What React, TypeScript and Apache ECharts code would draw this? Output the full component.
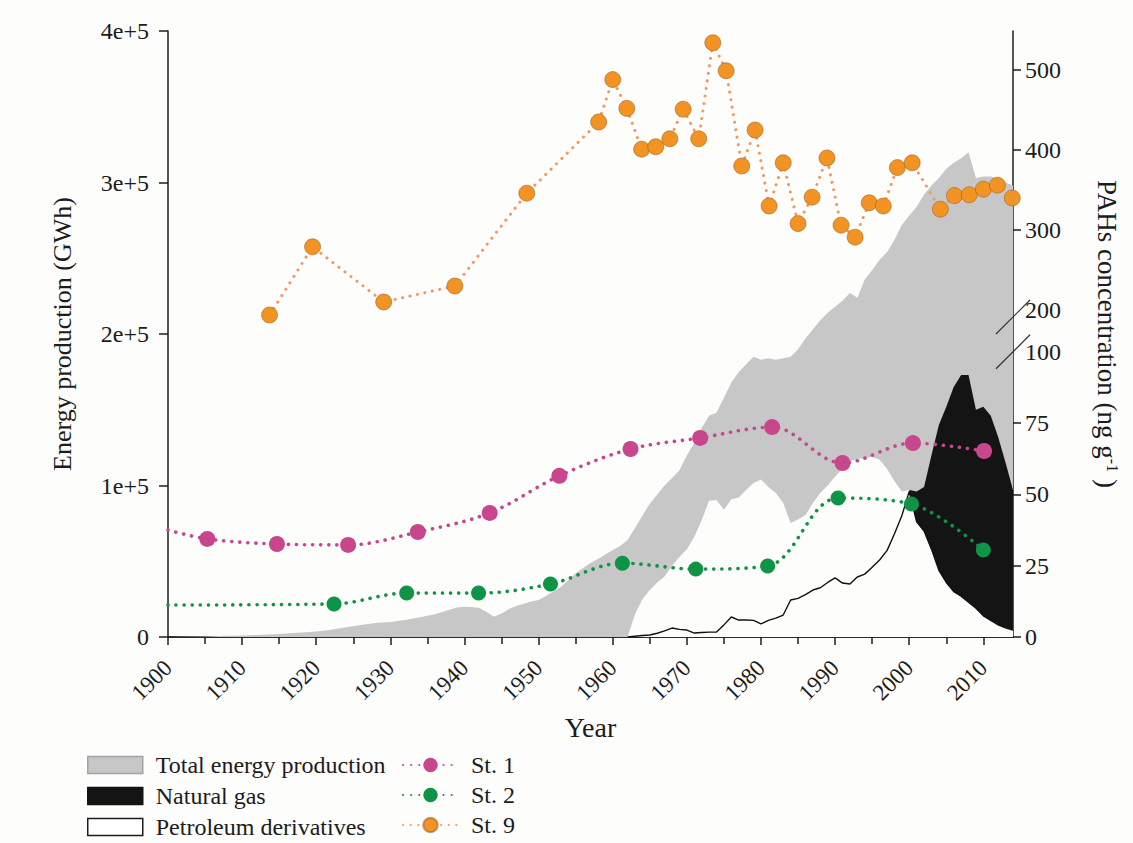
import React, { useEffect, useRef } from "react";
import * as echarts from "echarts";

// ---------------- Data ----------------
const TOTAL_YEARS = [
  1900, 1902, 1905, 1908, 1910, 1912, 1915, 1918, 1920, 1922, 1924, 1926, 1928, 1930, 1932, 1934, 1936, 1937,
  1938, 1939, 1940, 1941, 1942, 1943, 1944, 1945, 1946, 1947, 1948, 1949, 1950, 1951, 1952, 1953, 1954, 1955,
  1956, 1957, 1958, 1959, 1960, 1961, 1962, 1963, 1964, 1965, 1966, 1967, 1968, 1969, 1970, 1971, 1972, 1973,
  1974, 1975, 1976, 1977, 1978, 1979, 1980, 1981, 1982, 1983, 1984, 1985, 1986, 1987, 1988, 1989, 1990, 1991,
  1992, 1993, 1994, 1995, 1996, 1997, 1998, 1999, 2000, 2001, 2002, 2003, 2004, 2005, 2006, 2007, 2008, 2009,
  2010, 2011, 2012, 2013, 2014,
];
const TOTAL_GWH = [
  0, 100, 400, 800, 1000, 1400, 2000, 3000, 3600, 4800, 6500, 7900, 9200, 9900, 11300, 13000, 15000, 16500,
  18000, 19500, 20000, 19800, 19200, 16500, 13300, 15500, 18500, 20500, 22000, 23500, 24400, 27000, 30000, 33000, 37500, 42000,
  45500, 48800, 51500, 54500, 57500, 60000, 64000, 72000, 80000, 88000, 94000, 100000, 105000, 110000, 120000, 128000, 138000, 146000,
  148000, 158000, 168000, 175000, 180000, 185000, 183000, 184000, 183000, 184000, 185000, 190000, 197000, 203000, 209000, 214000, 218000, 222000,
  227000, 224000, 236000, 242000, 249000, 254000, 262000, 272000, 278000, 284000, 292000, 298000, 303000, 309000, 313000, 316000, 320000, 303000,
  304000, 304000, 302000, 300000, 298000,
];

// white gap below the grey band (1962-2000)
const GAP_YEARS = [
  1962, 1963, 1964, 1965, 1966, 1967, 1968, 1969, 1970, 1971, 1972, 1973, 1974, 1975, 1976, 1977, 1978, 1979, 1980,
  1981, 1982, 1983, 1984, 1985, 1986, 1987, 1988, 1989, 1990, 1991, 1992, 1993, 1994, 1995, 1996, 1997, 1998, 1999, 2000,
];
const GAP_GWH = [
  0, 15000, 25000, 31000, 36000, 40000, 47000, 52800, 58000, 66000, 77000, 90000, 90400, 84000, 91000, 92000, 97000, 101600, 104000,
  99000, 95000, 88400, 75200, 77500, 80500, 88400, 95000, 100000, 106000, 111000, 116000, 117500, 118200, 118800, 117000, 111000, 103000, 96000, 97000,
];

const PETRO_YEARS = [
  1962, 1963, 1964, 1965, 1966, 1967, 1968, 1969, 1970, 1971, 1972, 1973, 1974, 1975, 1976, 1977, 1978, 1979, 1980,
  1981, 1982, 1983, 1984, 1985, 1986, 1987, 1988, 1989, 1990, 1991, 1992, 1993, 1994, 1995, 1996, 1997, 1998, 1999, 2000,
  2001, 2002, 2003, 2004, 2005, 2006, 2007, 2008, 2009, 2010, 2011, 2012, 2013, 2014,
];
const PETRO_GWH = [
  0, 500, 1000, 1300, 2500, 4000, 5900, 5000, 4600, 2600, 3000, 3200, 3300, 8000, 13200, 11200, 11200, 11000, 8600,
  11000, 12500, 14500, 24400, 25500, 28000, 31000, 32500, 36000, 39000, 35600, 35000, 39600, 41500, 46000, 50800, 57000, 68000, 80000, 96000,
  76000, 70000, 58000, 44000, 36000, 30000, 27000, 23000, 19000, 14000, 11000, 8000, 6000, 4500,
];

const GAS_YEARS = [2000, 2001, 2002, 2003, 2004, 2005, 2006, 2007, 2008, 2009, 2010, 2011, 2012, 2013, 2014];
const GAS_GWH = [97000, 96000, 99000, 120000, 140000, 152000, 165000, 173000, 173000, 150000, 152000, 146000, 132000, 115000, 97000];

// PAHs (ng g-1)
const ST1_YEARS = [1905.3, 1914.7, 1924.3, 1933.7, 1943.4, 1952.8, 1962.4, 1971.8, 1981.5, 1991.0, 2000.5, 2010.1];
const ST1_PAH = [34.4, 32.6, 32.3, 36.8, 43.5, 56.5, 65.9, 69.8, 73.6, 61.0, 68.0, 65.2];
const ST1_CURVE_START = [1900, 37.5];

const ST2_YEARS = [1922.4, 1932.2, 1941.9, 1951.6, 1961.3, 1971.2, 1980.9, 1990.4, 2000.3, 2010.0];
const ST2_PAH = [11.6, 15.4, 15.4, 18.6, 25.9, 23.8, 24.9, 48.7, 46.6, 30.5];
const ST2_CURVE_START = [1900, 11.2];

const ST9_YEARS = [
  1913.7, 1919.5, 1929.1, 1938.7, 1948.4, 1958.1, 1960.0, 1961.9, 1963.9, 1965.8, 1967.7, 1969.5, 1971.6, 1973.5,
  1975.3, 1977.4, 1979.2, 1981.1, 1983.0, 1985.0, 1986.9, 1988.9, 1990.8, 1992.7, 1994.6, 1996.5, 1998.4, 2000.4,
  2004.2, 2006.1, 2008.1, 2010.0, 2011.9, 2013.9,
];
const ST9_PAH = [
  188, 279, 210, 230, 346, 435, 488, 452, 401, 404, 414, 451, 414, 534,
  499, 380, 425, 330, 384, 308, 341, 390, 306, 291, 334, 330, 378, 384,
  326, 343, 344, 351, 356, 340,
];

const X_TICK_YEARS = [1900, 1910, 1920, 1930, 1940, 1950, 1960, 1970, 1980, 1990, 2000, 2010];
const TOP_TICK_YEARS = [1905, 1915, 1925, 1935, 1945, 1955, 1965, 1975, 1985, 1995, 2005];
const PAH_TICKS = [0, 25, 50, 75, 300, 400, 500];
const PAH_LABELS = [0, 25, 50, 75, 100, 200, 300, 400, 500];

// ---------------- Broken right axis (0-100 | 200-550) ----------------
const LOW_END = 100;
const HIGH_START = 200;
const GAP_DISPLAY = 14.66;
const HIGH_SCALE = 0.2805;
const DISPLAY_MAX = 212.48;
const toDisplay = (v: number) => {
  if (v <= LOW_END) return v;
  if (v < HIGH_START) return LOW_END + ((v - LOW_END) / (HIGH_START - LOW_END)) * GAP_DISPLAY;
  return LOW_END + GAP_DISPLAY + (v - HIGH_START) * HIGH_SCALE;
};
const fromDisplay = (d: number) => {
  if (d <= LOW_END + 1e-9) return d;
  if (d < LOW_END + GAP_DISPLAY - 1e-9) return LOW_END + ((d - LOW_END) / GAP_DISPLAY) * (HIGH_START - LOW_END);
  return HIGH_START + (d - LOW_END - GAP_DISPLAY) / HIGH_SCALE;
};

const FONT = "Liberation Serif";
const BG = "#fdfdfb";
const INK = "#1c1c1c";
const MAGENTA = "#c8478c";
const GREEN = "#0f9347";
const ORANGE = "#f39324";
const ORANGE_LINE = "#f09a62";
const GREY = "#c7c7c7";
const DOT = [0.1, 8];

const pairs = (xs: number[], ys: number[]) => xs.map((x, i) => [x, ys[i]]);
const pahPairs = (xs: number[], ys: number[]) => xs.map((x, i) => [x, toDisplay(ys[i])]);

export default function App() {
  const ref = useRef<HTMLDivElement>(null);

  useEffect(() => {
    if (!ref.current) return;
    const chart = echarts.init(ref.current, null, { renderer: "svg" });

    const axisLine = { show: true, lineStyle: { color: INK, width: 1.5 } };
    const labelStyle = { fontFamily: FONT, fontSize: 24, color: INK };

    const option: any = {
      animation: false,
      backgroundColor: BG,
      textStyle: { fontFamily: FONT },
      grid: { left: 168, right: 120, top: 31, bottom: 206, containLabel: false },
      xAxis: [
        {
          type: "value",
          min: 1900,
          max: 2014,
          position: "bottom",
          name: "Year",
          nameLocation: "middle",
          nameGap: 76,
          nameTextStyle: { fontFamily: FONT, fontSize: 28, color: INK },
          axisLine,
          axisTick: { show: true, length: 8, lineStyle: { color: INK, width: 1.5 }, customValues: X_TICK_YEARS },
          axisLabel: {
            ...labelStyle,
            fontSize: 23,
            rotate: 45,
            margin: 27,
            customValues: X_TICK_YEARS,
            formatter: (v: number) => String(v),
          },
          splitLine: { show: false },
        },
        {
          type: "value",
          min: 1900,
          max: 2014,
          position: "top",
          axisLine,
          axisTick: { show: true, inside: true, length: 7, lineStyle: { color: INK, width: 1.5 }, customValues: TOP_TICK_YEARS },
          axisLabel: { show: false },
          splitLine: { show: false },
        },
      ],
      yAxis: [
        {
          type: "value",
          min: 0,
          max: 400000,
          interval: 100000,
          position: "left",
          name: "Energy production (GWh)",
          nameLocation: "middle",
          nameGap: 93,
          nameTextStyle: { fontFamily: FONT, fontSize: 26, color: INK },
          axisLine,
          axisTick: { show: true, length: 9, lineStyle: { color: INK, width: 1.5 } },
          axisLabel: { ...labelStyle, margin: 19, formatter: (v: number) => (v === 0 ? "0" : `${v / 100000}e+5`) },
          splitLine: { show: false },
        },
        {
          type: "value",
          min: 0,
          max: DISPLAY_MAX,
          position: "right",
          name: "PAHs concentration (ng g{sup|-1} )",
          nameLocation: "middle",
          nameRotate: -90,
          nameGap: 80,
          nameTextStyle: {
            fontFamily: FONT,
            fontSize: 27,
            color: INK,
            rich: { sup: { fontFamily: FONT, fontSize: 16, color: INK, verticalAlign: "top", lineHeight: 14 } },
          },
          axisLine,
          axisTick: {
            show: true,
            length: 8,
            lineStyle: { color: INK, width: 1.5 },
            customValues: PAH_TICKS.map(toDisplay),
          },
          axisLabel: {
            ...labelStyle,
            margin: 12,
            customValues: PAH_LABELS.map(toDisplay),
            formatter: (d: number) => String(Math.round(fromDisplay(d))),
          },
          splitLine: { show: false },
        },
      ],
      legend: [
        {
          orient: "vertical",
          left: 87,
          top: 753,
          padding: 0,
          itemWidth: 55,
          itemHeight: 17,
          itemGap: 7,
          selectedMode: false,
          textStyle: { fontFamily: FONT, fontSize: 24, color: INK, lineHeight: 24, padding: [0, 0, 0, 8] },
          data: [
            { name: "Total energy production", icon: "rect", itemStyle: { color: GREY, borderColor: "#a3a3a3", borderWidth: 1.5 } },
            { name: "Natural gas", icon: "rect", itemStyle: { color: "#141414", borderColor: "#141414", borderWidth: 1.5 } },
            { name: "Petroleum derivatives", icon: "rect", itemStyle: { color: "#ffffff", borderColor: INK, borderWidth: 1.5 } },
          ],
        },
        {
          orient: "vertical",
          left: 402,
          top: 753,
          padding: 0,
          itemWidth: 55,
          itemHeight: 18,
          itemGap: 6,
          selectedMode: false,
          textStyle: { fontFamily: FONT, fontSize: 24, color: INK, lineHeight: 24, padding: [0, 0, 0, 8] },
          data: ["St. 1", "St. 2", "St. 9"],
        },
      ],
      series: [
        {
          name: "Total energy production",
          type: "line",
          xAxisIndex: 0,
          yAxisIndex: 0,
          data: pairs(TOTAL_YEARS, TOTAL_GWH),
          symbol: "none",
          lineStyle: { width: 0, color: GREY },
          itemStyle: { color: GREY },
          areaStyle: { color: GREY, opacity: 1 },
        },
        {
          name: "gap",
          type: "line",
          xAxisIndex: 0,
          yAxisIndex: 0,
          data: pairs(GAP_YEARS, GAP_GWH),
          symbol: "none",
          lineStyle: { width: 0, color: BG },
          areaStyle: { color: BG, opacity: 1 },
        },
        {
          name: "Natural gas",
          type: "line",
          xAxisIndex: 0,
          yAxisIndex: 0,
          data: pairs(GAS_YEARS, GAS_GWH),
          symbol: "none",
          lineStyle: { width: 0, color: "#141414" },
          itemStyle: { color: "#141414" },
          areaStyle: { color: "#141414", opacity: 1 },
        },
        {
          name: "Petroleum derivatives",
          type: "line",
          xAxisIndex: 0,
          yAxisIndex: 0,
          data: pairs(PETRO_YEARS, PETRO_GWH),
          symbol: "none",
          lineStyle: { width: 1.4, color: "#111" },
          itemStyle: { color: "#ffffff" },
          areaStyle: { color: BG, opacity: 1 },
        },
        {
          name: "St. 1",
          type: "line",
          xAxisIndex: 0,
          yAxisIndex: 1,
          smooth: 0.35,
          data: [{ value: [ST1_CURVE_START[0], toDisplay(ST1_CURVE_START[1])], symbol: "none" }, ...pahPairs(ST1_YEARS, ST1_PAH)],
          symbol: "circle",
          symbolSize: 16,
          showAllSymbol: true,
          lineStyle: { color: MAGENTA, width: 3.6, type: DOT, cap: "round" },
          itemStyle: { color: MAGENTA },
        },
        {
          name: "St. 2",
          type: "line",
          xAxisIndex: 0,
          yAxisIndex: 1,
          smooth: 0.35,
          data: [{ value: [ST2_CURVE_START[0], toDisplay(ST2_CURVE_START[1])], symbol: "none" }, ...pahPairs(ST2_YEARS, ST2_PAH)],
          symbol: "circle",
          symbolSize: 15,
          showAllSymbol: true,
          lineStyle: { color: GREEN, width: 3.6, type: DOT, cap: "round" },
          itemStyle: { color: GREEN },
        },
        {
          name: "St. 9",
          type: "line",
          xAxisIndex: 0,
          yAxisIndex: 1,
          data: pahPairs(ST9_YEARS, ST9_PAH),
          symbol: "circle",
          symbolSize: 16,
          showAllSymbol: true,
          lineStyle: { color: ORANGE_LINE, width: 3, type: [0.1, 7.5], cap: "round" },
          itemStyle: { color: ORANGE, borderColor: "rgba(150,95,30,0.55)", borderWidth: 1 },
        },
      ],
    };

    chart.setOption(option);

    // axis-break marks on the right axis
    const xR = chart.convertToPixel({ xAxisIndex: 0 }, 2014) as number;
    const y100 = chart.convertToPixel({ yAxisIndex: 1 }, toDisplay(LOW_END)) as number;
    const y200 = chart.convertToPixel({ yAxisIndex: 1 }, toDisplay(HIGH_START)) as number;
    const mark = (cy: number) => ({
      type: "line",
      shape: { x1: xR - 17, y1: cy + 17, x2: xR + 17, y2: cy - 17 },
      style: { stroke: "#333", lineWidth: 1.2 },
      z: 100,
    });
    chart.setOption({ graphic: [mark(y200 + 7), mark(y100)] });

    return () => chart.dispose();
  }, []);

  return <div ref={ref} style={{ position: "fixed", left: 0, top: 0, width: 1133, height: 843 }} />;
}
